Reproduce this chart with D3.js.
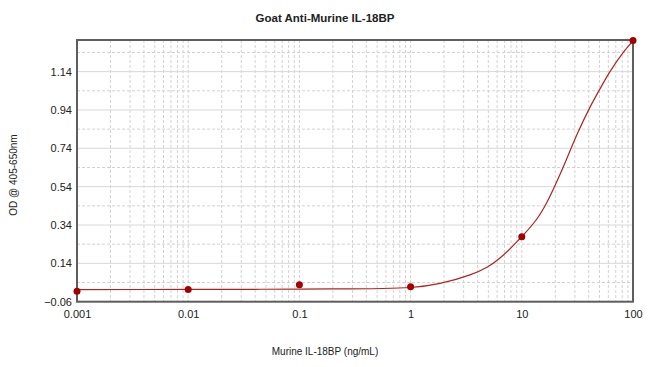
<!DOCTYPE html>
<html><head><meta charset="utf-8">
<script src="https://cdn.jsdelivr.net/npm/d3@7"></script>
<style>body{margin:0;background:#fff;}svg{display:block;font-family:"Liberation Sans",Arial,sans-serif;}</style>
</head><body>
<svg id="c" width="650" height="367"></svg>
<script>
// Measured standards
const concentrations = [0.001, 0.01, 0.1, 1, 10, 100];
const odValues = [-0.005, 0.004, 0.029, 0.018, 0.279, 1.302];
// Fitted curve
const curveX = [0.001, 0.01, 0.1, 1, 1.84, 3.42, 4.86, 6.37, 10, 13.6, 16.7, 22.1, 31.8, 41.1, 50.5, 62.1, 81.8, 100];
const curveY = [0.003, 0.004, 0.006, 0.014, 0.036, 0.08, 0.12, 0.168, 0.279, 0.37, 0.455, 0.605, 0.82, 0.955, 1.05, 1.14, 1.24, 1.30];
const xTicks = [0.001, 0.01, 0.1, 1, 10, 100];
const xTickLabels = ["0.001", "0.01", "0.1", "1", "10", "100"];
const yTicks = [-0.06, 0.14, 0.34, 0.54, 0.74, 0.94, 1.14];
const yMinorTicks = [0.04, 0.24, 0.44, 0.64, 0.84, 1.04, 1.24];

const svg = d3.select("#c");
const L = 77, R = 633, T = 40, B = 301.7;
const x = d3.scaleLog().domain([0.001, 100]).range([L, R]);
const y = d3.scaleLinear().domain([-0.06, 1.305]).range([B, T]);

// grid
const g = svg.append("g");
const minorX = [];
for (let d = -3; d < 2; d++) for (let m = 2; m <= 9; m++) minorX.push(m * Math.pow(10, d));
g.selectAll(".vx").data(minorX).enter().append("line")
  .attr("x1", d => x(d)).attr("x2", d => x(d)).attr("y1", T).attr("y2", B)
  .attr("stroke", "#d2d2d2").attr("stroke-dasharray", "3,2").attr("stroke-width", 1);
g.selectAll(".vm").data(xTicks).enter().append("line")
  .attr("x1", d => x(d)).attr("x2", d => x(d)).attr("y1", T).attr("y2", B)
  .attr("stroke", "#d2d2d2").attr("stroke-dasharray", "3,2").attr("stroke-width", 1);
g.selectAll(".hm").data(yMinorTicks).enter().append("line")
  .attr("x1", L).attr("x2", R).attr("y1", d => y(d)).attr("y2", d => y(d))
  .attr("stroke", "#d2d2d2").attr("stroke-dasharray", "3,2").attr("stroke-width", 1);
g.selectAll(".hM").data(yTicks).enter().append("line")
  .attr("x1", L).attr("x2", R).attr("y1", d => y(d)).attr("y2", d => y(d))
  .attr("stroke", "#d8d8d8").attr("stroke-width", 1);

// axes labels via d3 axes
const xAxis = d3.axisBottom(x).tickValues(xTicks).tickFormat((d, i) => xTickLabels[i]).tickSize(0).tickPadding(9);
const ax = svg.append("g").attr("transform", `translate(0,${B})`).call(xAxis);
ax.select(".domain").remove();
ax.selectAll("text").attr("font-size", 11).attr("fill", "#222").attr("font-family", "Liberation Sans, Arial, sans-serif");

const yAxis = d3.axisLeft(y).tickValues(yTicks).tickFormat(d => d3.format(".2f")(d)).tickSize(0).tickPadding(5);
const ay = svg.append("g").attr("transform", `translate(${L},0)`).call(yAxis);
ay.select(".domain").remove();
ay.selectAll("text").attr("font-size", 11).attr("fill", "#222").attr("font-family", "Liberation Sans, Arial, sans-serif");

// curve
const line = d3.line().x(d => x(d[0])).y(d => y(d[1])).curve(d3.curveCatmullRom.alpha(0.5));
svg.append("path").datum(curveX.map((v, i) => [v, curveY[i]]))
  .attr("d", line).attr("fill", "none").attr("stroke", "#b22222").attr("stroke-width", 1.2);

// border
svg.append("rect").attr("x", L).attr("y", T).attr("width", R - L).attr("height", B - T)
  .attr("fill", "none").attr("stroke", "#5e5e5e").attr("stroke-width", 2);

// points
svg.selectAll(".pt").data(concentrations).enter().append("circle")
  .attr("cx", d => x(d)).attr("cy", (d, i) => y(odValues[i])).attr("r", 3.5).attr("fill", "#a50000");

// titles
svg.append("text").attr("x", 325).attr("y", 22).attr("text-anchor", "middle")
  .attr("font-size", 11.5).attr("font-weight", "bold").attr("fill", "#222").text("Goat Anti-Murine IL-18BP");
svg.append("text").attr("x", 325).attr("y", 355).attr("text-anchor", "middle")
  .attr("font-size", 10).attr("fill", "#222").text("Murine IL-18BP (ng/mL)");
svg.append("text").attr("transform", "translate(17,175) rotate(-90)").attr("text-anchor", "middle")
  .attr("font-size", 10).attr("fill", "#222").text("OD @ 405-650nm");
</script>
</body></html>
